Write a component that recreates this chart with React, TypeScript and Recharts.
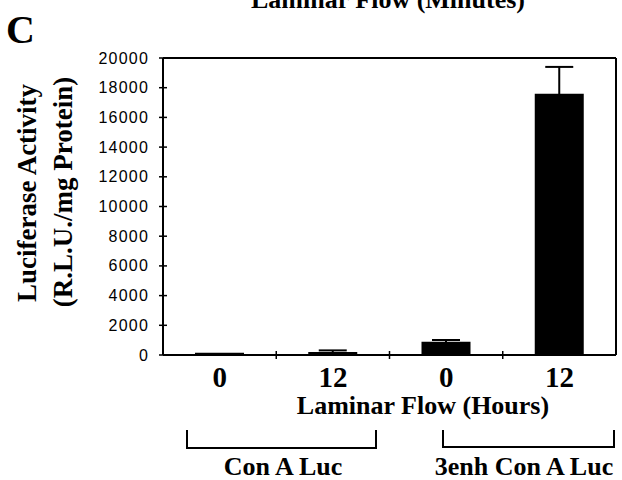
import { BarChart, Bar, XAxis, YAxis, ErrorBar, ReferenceLine } from "recharts"

// hours of laminar flow for each bar, left to right
const categories = ["0", "12", "0", "12"]
const luciferase = [150, 200, 900, 17600]
const luciferaseErr = [0, 110, 110, 1800]
const yTicks = [0, 2000, 4000, 6000, 8000, 10000, 12000, 14000, 16000, 18000, 20000]
const groups = ["Con A Luc", "3enh Con A Luc"]

const SERIF = "'Liberation Serif', 'Times New Roman', serif"
const SANS = "'Liberation Sans', Arial, sans-serif"

// bars sit in the middle of unit slots on a numeric axis, so slot edges can carry tick marks
const data = categories.map((c, i) => ({
  pos: i + 0.5,
  label: c,
  value: luciferase[i],
  err: luciferaseErr[i],
}))

const xTicks = [0.5, 1, 1.5, 2, 2.5, 3, 3.5]

function XTick(props: any) {
  const { x, y, payload } = props
  const v = payload.value
  if (Number.isInteger(v)) {
    return <line x1={x} x2={x} y1={y - 4} y2={y + 4} stroke="#000" strokeWidth={1.5} />
  }
  return (
    <text x={x} y={y + 32} textAnchor="middle" fontFamily={SERIF} fontWeight="bold" fontSize={29} fill="#000">
      {categories[Math.floor(v)]}
    </text>
  )
}

function YTick(props: any) {
  const { x, y, payload } = props
  return (
    <g>
      <line x1={x - 4} x2={x + 4} y1={y} y2={y} stroke="#000" strokeWidth={1.5} />
      <text x={x - 14} y={y + 5.5} textAnchor="end" fontFamily={SANS} fontSize={16} letterSpacing={1.2} fill="#000">
        {payload.value}
      </text>
    </g>
  )
}

export default function App() {
  return (
    <div style={{ position: "absolute", left: 0, top: 0, background: "#fff" }}>
      <BarChart width={622} height={480} data={data} margin={{ top: 58, right: 6, bottom: 0, left: 0 }}>
        {/* panel title, cut off by the top edge in the source figure */}
        <text x={388} y={8} textAnchor="middle" fontFamily={SERIF} fontWeight="bold" fontSize={26} fill="#000">
          Laminar Flow (Minutes)
        </text>
        <text x={6} y={43} fontFamily={SERIF} fontWeight="bold" fontSize={40} fill="#000">
          C
        </text>

        {/* y axis title, two lines */}
        <text
          x={27}
          y={193}
          transform="rotate(-90 27 193)"
          textAnchor="middle"
          dominantBaseline="central"
          fontFamily={SERIF}
          fontWeight="bold"
          fontSize={27}
          fill="#000"
        >
          Luciferase Activity
        </text>
        <text
          x={63}
          y={192}
          transform="rotate(-90 63 192)"
          textAnchor="middle"
          dominantBaseline="central"
          fontFamily={SERIF}
          fontWeight="bold"
          fontSize={27}
          fill="#000"
        >
          (R.L.U./mg Protein)
        </text>

        <text x={423} y={414} textAnchor="middle" fontFamily={SERIF} fontWeight="bold" fontSize={26} fill="#000">
          Laminar Flow (Hours)
        </text>

        {/* group brackets */}
        <path d="M187 430 V448 H376 V430" fill="none" stroke="#000" strokeWidth={2} />
        <path d="M443 430 V447 H614 V430" fill="none" stroke="#000" strokeWidth={2} />
        <text x={283} y={475} textAnchor="middle" fontFamily={SERIF} fontWeight="bold" fontSize={26} fill="#000">
          {groups[0]}
        </text>
        <text x={524} y={475} textAnchor="middle" fontFamily={SERIF} fontWeight="bold" fontSize={26} fill="#000">
          {groups[1]}
        </text>

        <XAxis
          type="number"
          dataKey="pos"
          domain={[0, 4]}
          ticks={xTicks}
          interval={0}
          allowDecimals
          height={125}
          tickLine={false}
          tickSize={0}
          tickMargin={0}
          axisLine={{ stroke: "#000", strokeWidth: 2 }}
          tick={XTick}
        />
        <YAxis
          domain={[0, 20000]}
          ticks={yTicks}
          interval={0}
          width={163}
          tickLine={false}
          tickSize={0}
          tickMargin={0}
          axisLine={{ stroke: "#000", strokeWidth: 2 }}
          tick={YTick}
        />
        {/* closing frame, top and right */}
        <ReferenceLine y={20000} stroke="#000" strokeWidth={2} />
        <ReferenceLine x={4} stroke="#000" strokeWidth={2} />

        <Bar dataKey="value" fill="#000" barSize={49} isAnimationActive={false}>
          <ErrorBar dataKey="err" width={14} stroke="#000" strokeWidth={2} direction="y" isAnimationActive={false} />
        </Bar>
      </BarChart>
    </div>
  )
}
